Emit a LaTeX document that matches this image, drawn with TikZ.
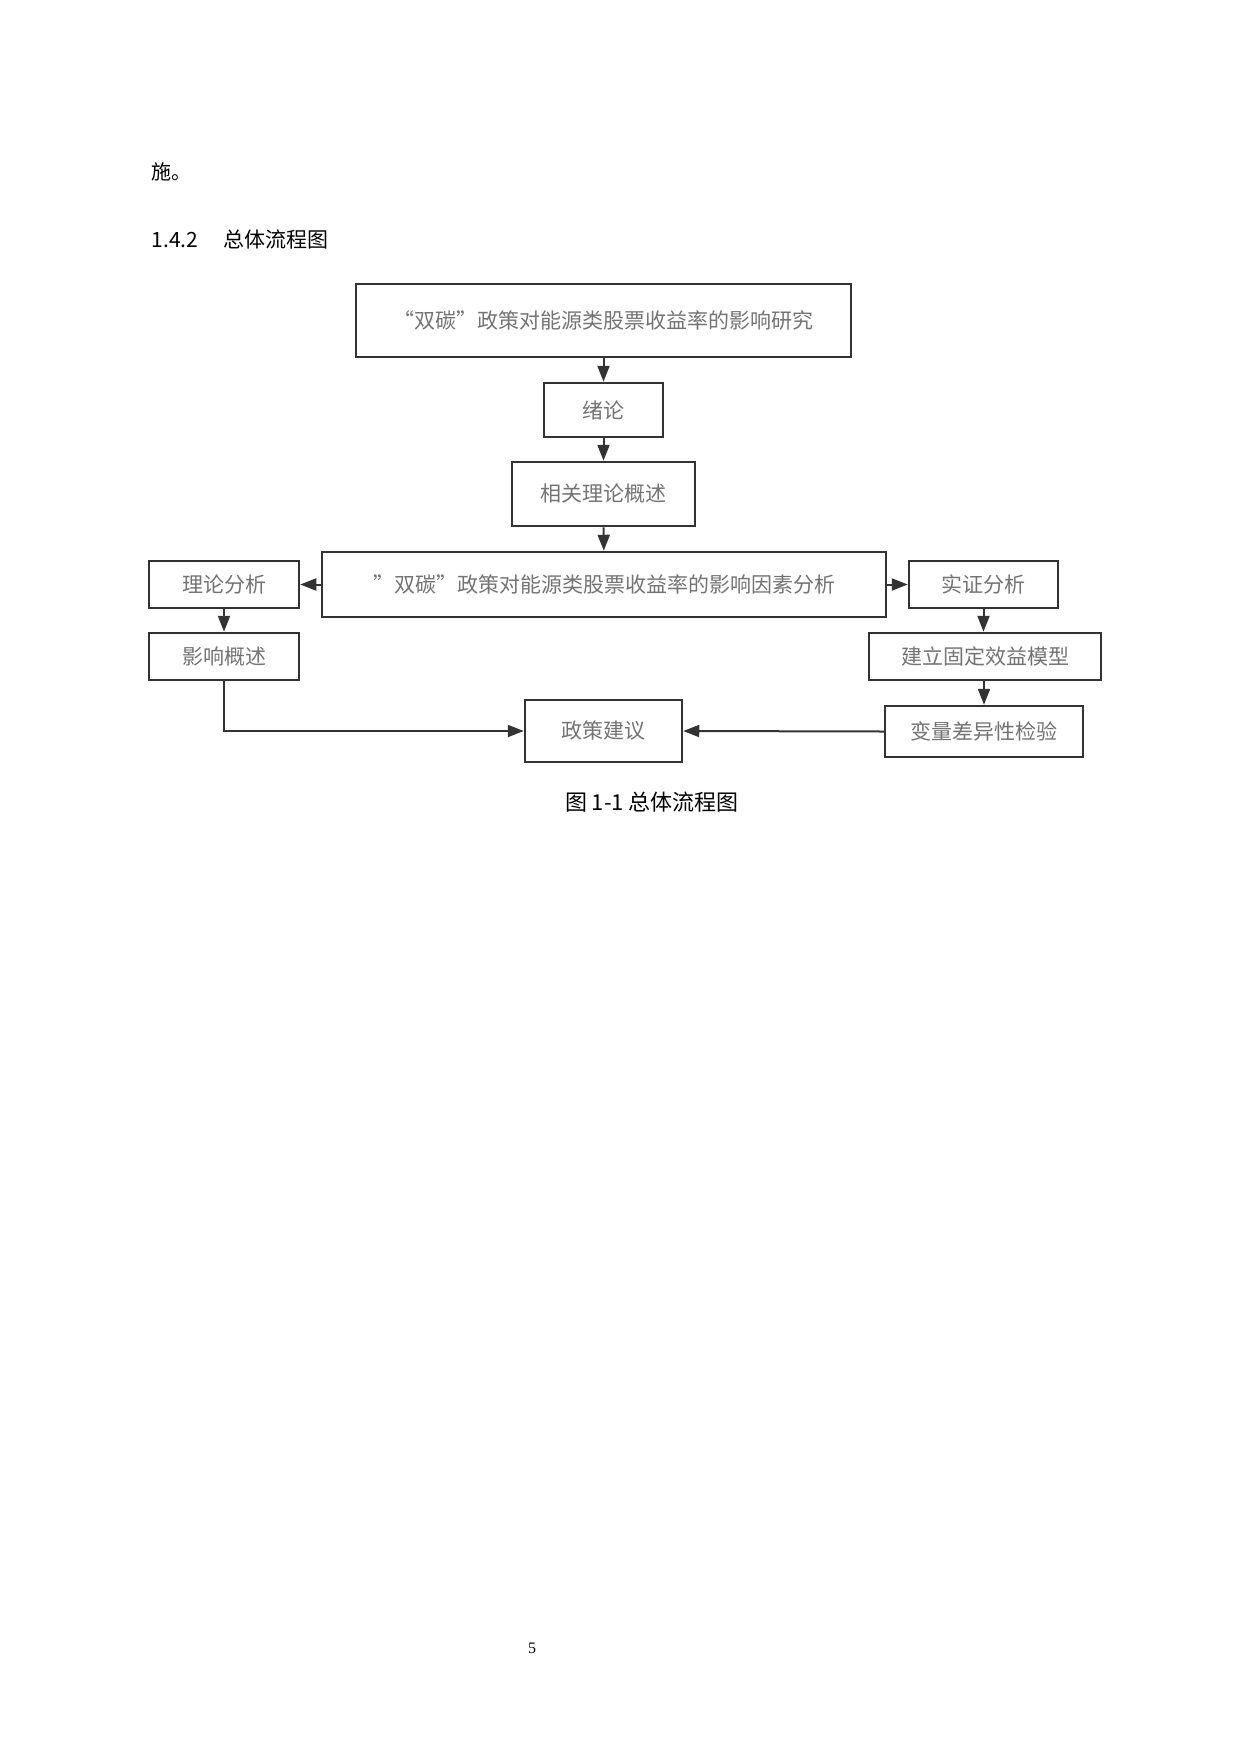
\documentclass[tikz,border=0pt]{standalone}
\usepackage{fontspec}
\setmainfont{Liberation Serif}
\newfontfamily\cjk{Noto Sans CJK SC}
\usetikzlibrary{arrows.meta}
\begin{document}
\begin{tikzpicture}[x=1pt,y=-1pt,
  box/.style={draw=black!80,line width=2.5pt,fill=white,inner sep=0pt,text=black!55,font=\cjk\fontsize{21}{21}\selectfont},
  arr/.style={draw=black!80,line width=2pt,-{Triangle[length=16pt,width=12pt]}}]
\useasboundingbox[fill=white] (0,0) rectangle (1240,1754);
\node[anchor=west,font=\cjk\fontsize{20}{20}\selectfont] (p) at (148,172) {施。};
\node[anchor=west,font=\cjk\fontsize{21}{21}\selectfont] (h) at (148,240) {1.4.2\hspace{1.2em}总体流程图};
\node[box,minimum width=495pt,minimum height=73pt] (t) at (603.5,320.5) {“双碳”政策对能源类股票收益率的影响研究};
\node[box,minimum width=119pt,minimum height=54pt] (x) at (603.5,410) {绪论};
\node[box,minimum width=183pt,minimum height=64pt] (r) at (603.5,494) {相关理论概述};
\node[box,minimum width=564pt,minimum height=65pt] (m) at (604,584.5) {”双碳”政策对能源类股票收益率的影响因素分析};
\node[box,minimum width=150pt,minimum height=47pt] (l1) at (224,584.5) {理论分析};
\node[box,minimum width=150pt,minimum height=47pt] (l2) at (224,656.5) {影响概述};
\node[box,minimum width=149pt,minimum height=47pt] (r1) at (983.5,584.5) {实证分析};
\node[box,minimum width=232pt,minimum height=47pt] (r2) at (985,656.5) {建立固定效益模型};
\node[box,minimum width=198pt,minimum height=51pt] (r3) at (984,731.5) {变量差异性检验};
\node[box,minimum width=157pt,minimum height=62pt] (z) at (603.5,731) {政策建议};
\node[font=\cjk\fontsize{22}{22}\selectfont] (c) at (652,802) {图 1-1 总体流程图};
\node[font=\fontsize{16}{16}\selectfont] (n) at (532,1648) {5};
\draw[arr] (t) -- (x);
\draw[arr] (x) -- (r);
\draw[arr] (r) -- (m);
\draw[arr] (m) -- (l1);
\draw[arr] (m) -- (r1);
\draw[arr] (l1) -- (l2);
\draw[arr] (r1.south) -- (r1.south |- r2.north);
\draw[arr] (r2.south -| r3.north) -- (r3.north);
\draw[arr] (l2.south) |- (z.west);
\draw[arr] (r3.west) -- (z.east);
\end{tikzpicture}
\end{document}
